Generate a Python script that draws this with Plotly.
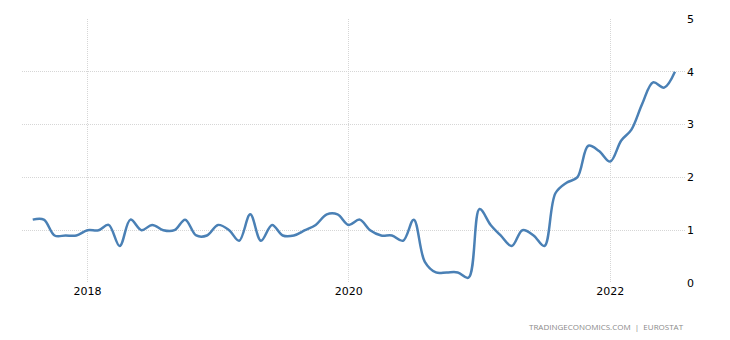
import plotly.graph_objects as go

dates = [f"{y}-{m:02d}-01" for y in range(2017, 2023) for m in range(1, 13)]
dates = dates[dates.index("2017-08-01"):dates.index("2022-07-01") + 1]

values = [1.2, 1.2, 0.9, 0.9, 0.9,
          1.0, 1.0, 1.1, 0.7, 1.2, 1.0, 1.1, 1.0, 1.0, 1.2, 0.9, 0.9,
          1.1, 1.0, 0.8, 1.3, 0.8, 1.1, 0.9, 0.9, 1.0, 1.1, 1.3, 1.3,
          1.1, 1.2, 1.0, 0.9, 0.9, 0.8, 1.2, 0.4, 0.2, 0.2, 0.2, 0.1,
          1.4, 1.1, 0.9, 0.7, 1.0, 0.9, 0.7, 1.7, 1.9, 2.0, 2.6, 2.5,
          2.3, 2.7, 2.9, 3.4, 3.8, 3.7, 4.0]

tick_vals = ["2018-01-01", "2020-01-01", "2022-01-01"]
tick_text = ["2018", "2020", "2022"]
y_ticks = [0, 1, 2, 3, 4, 5]

fig = go.Figure()
fig.add_trace(go.Scatter(
    x=dates, y=values, mode="lines",
    line=dict(color="#4a80b5", width=2.5, shape="spline", smoothing=1.0),
    hoverinfo="x+y",
))

fig.update_layout(
    width=730, height=340,
    margin=dict(l=22, r=44, t=19, b=57),
    paper_bgcolor="white", plot_bgcolor="white",
    showlegend=False,
    font=dict(family="DejaVu Sans, Arial, sans-serif", size=11, color="#000"),
    xaxis=dict(
        range=["2017-07-02", "2022-08-01"],
        tickvals=tick_vals, ticktext=tick_text,
        showgrid=True, gridcolor="#d6d6d6", griddash="1px,1px", gridwidth=1,
        zeroline=False, showline=False, ticks="",
        tickfont=dict(size=11, color="#000"),
    ),
    yaxis=dict(
        range=[0, 5], side="right", tickvals=y_ticks,
        showgrid=True, gridcolor="#d6d6d6", griddash="1px,1px", gridwidth=1,
        zeroline=False, showline=False, ticks="",
        tickfont=dict(size=11, color="#000"),
    ),
    annotations=[dict(
        text="TRADINGECONOMICS.COM  |  EUROSTAT",
        xref="paper", yref="paper", x=1.0, y=-0.163,
        xanchor="right", yanchor="middle", showarrow=False,
        font=dict(family="Open Sans, sans-serif", size=8, color="#8a8a8a"),
    )],
)

fig.write_html("out.html")
